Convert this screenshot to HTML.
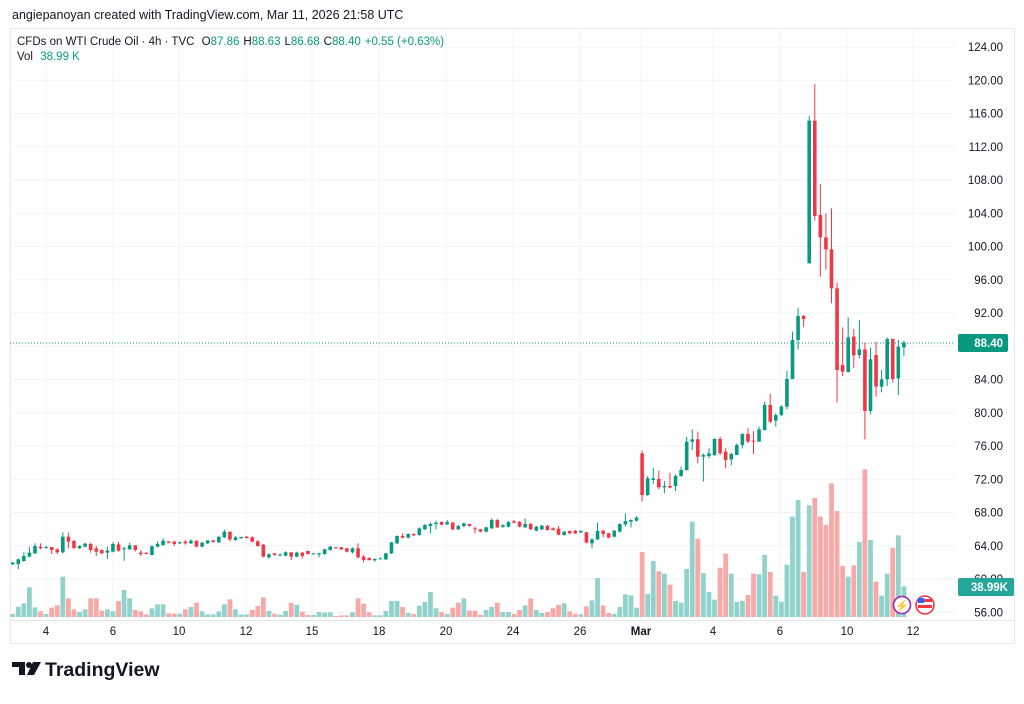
<!DOCTYPE html>
<html><head><meta charset="utf-8"><style>
body{margin:0;background:#fff;width:1024px;height:699px;overflow:hidden;font-family:"Liberation Sans",sans-serif}
svg text{font-family:"Liberation Sans",sans-serif}
</style></head><body>
<svg id="s" width="1024" height="699" xmlns="http://www.w3.org/2000/svg">
<rect x="0" y="0" width="1024" height="699" fill="#fff"/>
<text x="12" y="19" font-size="12.5" fill="#131722">angiepanoyan created with TradingView.com, Mar 11, 2026 21:58 UTC</text>
<rect x="10.5" y="28.5" width="1004" height="615" fill="none" stroke="#e6e7ea"/>
<g id="grid"></g>
<g id="vol"></g>
<g id="cdl"></g>
<line x1="10" y1="343" x2="955" y2="343" stroke="#089981" stroke-width="1" stroke-dasharray="1,2"/>
<line x1="10" y1="620.5" x2="1014" y2="620.5" stroke="#e6e7ea"/>
<g id="lab" font-size="11.5" fill="#131722"></g>
<rect x="958" y="334" width="50" height="18" rx="2" fill="#089981"/>
<text x="1003" y="347" font-size="11.5" fill="#fff" text-anchor="end" font-weight="bold">88.40</text>
<rect x="958" y="578" width="56" height="18" rx="2" fill="#26a69a"/>
<text x="1008" y="591" font-size="11.5" fill="#fff" text-anchor="end" font-weight="bold">38.99K</text>
<text x="17" y="45" font-size="11.5" fill="#131722">CFDs on WTI Crude Oil · 4h · TVC <tspan dx="4">O</tspan><tspan fill="#089981">87.86</tspan><tspan dx="4">H</tspan><tspan fill="#089981">88.63</tspan><tspan dx="4">L</tspan><tspan fill="#089981">86.68</tspan><tspan dx="4">C</tspan><tspan fill="#089981">88.40</tspan><tspan dx="4" fill="#089981">+0.55 (+0.63%)</tspan></text>
<text x="17" y="60" font-size="11.5" fill="#131722">Vol <tspan dx="4" fill="#089981">38.99 K</tspan></text>
<circle cx="902" cy="605" r="8.5" fill="#fff" stroke="#9c27b0" stroke-width="1.6"/>
<text x="902" y="609.5" font-size="11" fill="#9c27b0" text-anchor="middle">⚡</text>
<circle cx="925" cy="605" r="9" fill="#fff" stroke="#f23645" stroke-width="1.6"/>
<rect x="918" y="599" width="14" height="3" fill="#f23645"/><rect x="918" y="605" width="14" height="3" fill="#f23645"/><rect x="918" y="598" width="6" height="5" fill="#2962ff"/>
<g transform="translate(12,662)">
<path d="M0 0h13v13h-6v-8h-7z" fill="#131722"/><circle cx="17" cy="3" r="3" fill="#131722"/><path d="M21 0h8l-7 13h-7z" fill="#131722"/>
<text x="33" y="14" font-size="19.5" font-weight="bold" fill="#131722">TradingView</text>
</g>
</svg>
<script>
const NS="http://www.w3.org/2000/svg";
function el(p,t,a){const e=document.createElementNS(NS,t);for(const k in a)e.setAttribute(k,a[k]);document.getElementById(p).appendChild(e);return e;}
// grid
for(let k=0;k<=17;k++){const y=47+k*33.25;el("grid","line",{x1:10,x2:955,y1:y,y2:y,stroke:"#f2f3f5"});
 const t=el("lab","text",{x:1003,y:y+4,"text-anchor":"end"});t.textContent=(124-4*k).toFixed(2);}
const xs=[[46,"4"],[113,"6"],[179,"10"],[246,"12"],[312,"15"],[379,"18"],[446,"20"],[513,"24"],[580,"26"],[641,"Mar"],[713,"4"],[780,"6"],[847,"10"],[913,"12"]];
xs.forEach(([x,l])=>{el("grid","line",{x1:x,x2:x,y1:29,y2:620,stroke:"#f2f3f5"});const t=el("lab","text",{x:x,y:635,"text-anchor":"middle"});if(l=="Mar")t.setAttribute("font-weight","bold");t.textContent=l;});
// candles: [color, top, bot, wt, wb] in zoom coords
const A=`G 188 193 185 195;G 178 192 175 207;G 168 183 157 185;G 158 170 140 172;G 138 160 130 162;R 140 145 130 148;G 141 143 138 146;R 141 150 141 162;R 148 157 145 162;G 110 157 97 160;R 110 125 98 145;R 123 144 120 147;G 138 145 136 147;G 131 140 128 142;R 132 150 128 158;R 145 155 138 168;R 150 160 148 162;G 152 158 140 177;G 132 155 126 157;R 133 152 126 155;G 145 148 140 182;G 136 148 128 150;R 136 150 136 155;R 158 162 150 168;R 158 162 157 163;G 139 165 136 166;G 132 140 125 142;G 122 135 115 137;R 124 128 124 130;R 125 132 122 138;G 127 130 124 132;R 125 130 120 134;G 122 130 118 132;R 122 140 122 142;G 128 140 126 142;G 121 130 121 132;R 121 126 121 128;G 110 127 110 129;G 95 112 89 114;R 95 118 95 124;G 112 120 108 122;G 111 115 110 116;R 110 114 108 116;R 112 125 109 127;R 124 138 120 140;R 134 170 132 172;G 163 172 160 176;R 160 165 160 167;G 164 167 160 168;G 157 167 154 169;R 157 170 157 180;G 158 170 155 172;R 158 168 156 175;R 153 162 152 164;G 160 163 160 164;G 160 163 158 172;G 148 162 146 164;G 140 150 138 152;R 142 145 142 146;R 142 148 140 150;R 145 155 144 157;G 145 157 142 160;R 145 172 130 175;R 170 180 165 187;R 174 180 172 182;G 177 181 175 185;G 175 177 172 178;G 160 178 158 180;G 127 160 126 162;G 108 130 106 132;R 108 113 100 116;G 102 113 100 115;R 102 106 100 108;G 85 105 82 107;G 75 88 72 90;G 72 78 68 100;G 68 72 62 88;R 66 74 64 76;G 66 73 60 75;R 68 88 66 90;G 78 88 75 90;G 70 78 68 82;R 72 78 72 80;R 85 88 80 100;R 88 95 87 97;G 82 95 80 97;G 60 85 55 87;R 60 82 57 84;G 75 80 73 84;G 66 80 63 82;R 64 68 60 70;R 66 80 63 82;G 72 82 55 84;R 72 88 68 90;G 80 92 78 94;G 77 88 75 90;R 78 90 74 92;R 85 90 82 92;R 86 104 78 106;G 95 105 93 107;R 93 100 92 103;R 92 100 90 102;G 92 97 92 100;R 97 128 95 130;G 118 130 115 145;G 93 118 68 120;R 92 102 90 112;R 100 113 98 115;G 92 110 90 112;G 72 95 70 97;G 63 73 40 80;G 60 65 58 82;G 53 62 48 65`;
const B=`R 1120 1245 1112 1265;G 1195 1245 1188 1248;G 1195 1200 1163 1213;R 1197 1222 1172 1228;G 1218 1222 1203 1240;R 1218 1223 1178 1225;G 1188 1218 1183 1233;G 1170 1188 1160 1190;G 1085 1170 1070 1172;G 1078 1085 1048 1110;R 1078 1130 1055 1150;G 1125 1130 1120 1205;G 1120 1128 1105 1135;G 1077 1125 1075 1128;R 1077 1120 1070 1125;R 1115 1140 1105 1165;G 1122 1138 1118 1155;G 1095 1125 1090 1125;G 1062 1095 1060 1105;R 1062 1085 1045 1090;R 1082 1085 1053 1122;G 1048 1085 1040 1085;G 975 1050 965 1052;R 975 1025 942 1030;G 1005 1022 1000 1040;G 980 1005 975 1008;G 897 980 872 988;G 780 897 755 897;G 708 780 683 808;R 708 717 705 742;G 122 550 108 550;R 122 408 12 422;R 405 472 312 590;R 472 508 400 568;R 508 625 385 670;R 625 870 608 968;R 855 875 742 888;G 772 876 712 878;R 770 826 747 864;G 808 825 720 835;R 808 993 788 1078;G 838 993 803 1003;R 825 920 785 950;G 898 920 870 937;G 777 898 772 918;R 777 897 775 908;G 800 895 780 945;G 788 802 782 828`;
const cs=[];
A.split(";").forEach(s=>{const p=s.trim().split(" ");cs.push([p[0],...p.slice(1).map(v=>500+v/3)]);});
B.split(";").forEach(s=>{const p=s.trim().split(" ");cs.push([p[0],...p.slice(1).map(v=>80+v/3)]);});
const X=i=>12.7+i*5.57;
cs.forEach((c,i)=>{const x=X(i);const col=c[0]=="G"?"#089981":"#f23645";
 el("cdl","line",{x1:x,x2:x,y1:c[3],y2:c[4],stroke:col,"stroke-width":1});
 el("cdl","rect",{x:x-1.8,y:c[1],width:3.6,height:Math.max(1,c[2]-c[1]),fill:col});});
// volumes
const VA=`G 342;G 320;G 310;G 262;G 322;R 334;G 342;R 323;R 316;G 230;R 295;R 328;G 336;G 328;R 295;R 295;R 332;G 328;G 334;R 303;G 270;G 295;R 330;R 334;R 343;G 325;G 313;G 313;R 340;R 341;G 341;R 328;G 321;R 308;G 334;G 343;G 343;G 334;G 313;R 298;G 328;G 343;G 343;R 330;R 318;R 292;G 333;R 341;G 344;G 333;R 308;G 314;R 335;R 345;G 345;G 336`;
const VB=`G 338;G 337;R 348;R 346;R 346;G 337;R 295;R 311;R 337;G 346;G 346;G 333;G 303;G 303;R 321;G 339;R 342;G 317;G 306;G 276;G 325;R 336;G 342;R 323;R 308;G 295;R 332;R 332;R 344;G 330;G 321;R 308;G 336;G 336;R 342;R 330;G 316;R 295;G 330;G 339;R 336;R 325;R 315;G 310;R 334;R 341;G 343;R 319;G 301;G 234;R 316;R 339;G 342;G 321;G 283;G 286;G 323`;
const VC=`R 276;G 402;G 303;R 334;G 341;R 374;G 423;G 428;G 327;G 185;R 236;G 339;G 396;G 419;R 323;R 281;G 341;G 426;G 423;R 405;R 341;G 343;G 285;R 336;G 407;G 425;G 314;G 170;G 120;R 336;G 136;R 114;R 170;R 194;R 70;R 153;R 318;G 350;R 316;G 246;R 28;G 240;R 365;G 407;G 341;R 263;G 226;G 379`;
const vs=[];
VA.split(";").forEach(s=>{const p=s.trim().split(" ");vs.push([p[0],500+p[1]/3]);});
VB.split(";").forEach(s=>{const p=s.trim().split(" ");vs.push([p[0],500+p[1]/3]);});
VC.split(";").forEach(s=>{const p=s.trim().split(" ");vs.push([p[0],460+p[1]/3]);});
vs.forEach((v,i)=>{const x=X(i);el("vol","rect",{x:x-2.4,y:v[1],width:4.8,height:Math.max(1,617-v[1]),fill:v[0]=="G"?"#92d2cc":"#f7a9a7"});});
</script>
</body></html>
